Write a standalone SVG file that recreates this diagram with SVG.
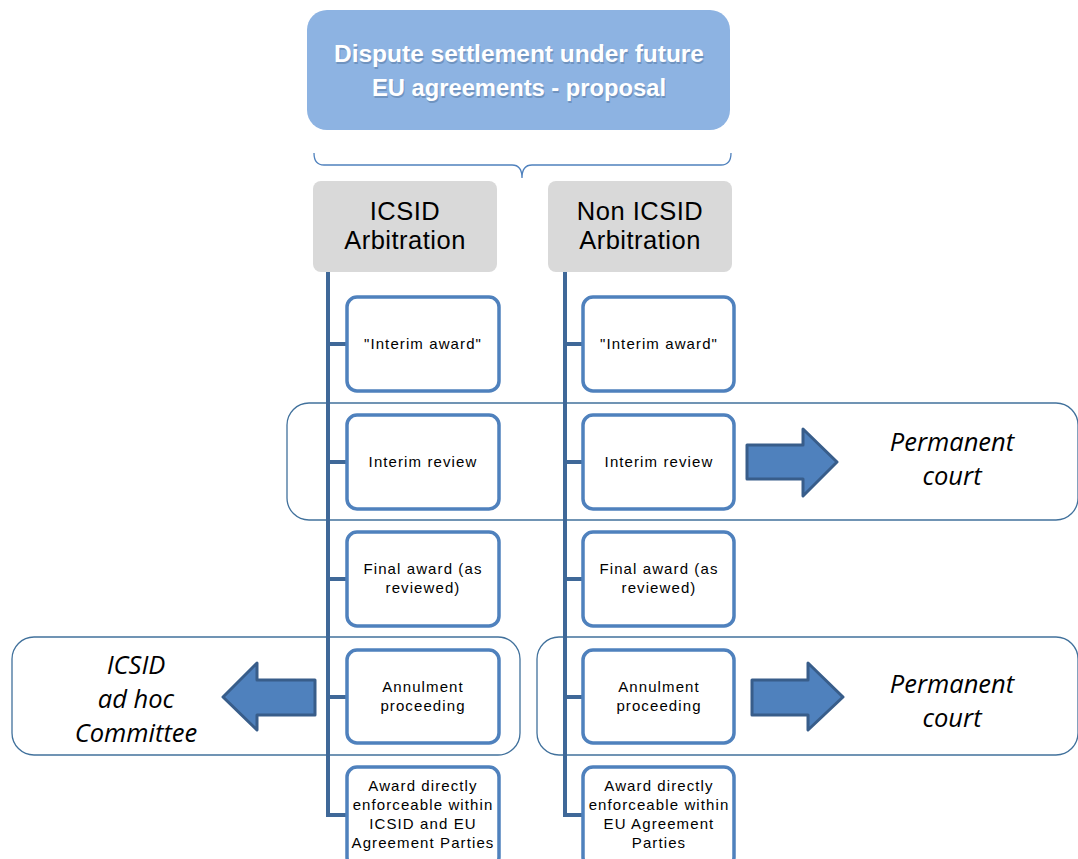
<svg xmlns="http://www.w3.org/2000/svg" width="1078" height="859" viewBox="0 0 1078 859">
<defs>
<style>
.title{font-family:"Liberation Sans",Arial,sans-serif;font-weight:bold;font-size:23px;fill:#ffffff;text-anchor:middle}
.tshadow{font-family:"Liberation Sans",Arial,sans-serif;font-weight:bold;font-size:23px;fill:#3a5a80;opacity:0.35;text-anchor:middle}
.cat{fill:#d9d9d9}
.cattxt{font-family:"Liberation Sans",Arial,sans-serif;font-size:25.5px;fill:#000;text-anchor:middle;letter-spacing:0.5px}
.box{fill:#ffffff;stroke:#4f81bd;stroke-width:3.5}
.btxt{font-family:"Liberation Sans",Arial,sans-serif;font-size:15px;fill:#000;text-anchor:middle;letter-spacing:1.1px}
.grp{fill:none;stroke:#41719c;stroke-width:1.3}
.arrow{fill:#4f81bd;stroke:#385d8a;stroke-width:3;stroke-linejoin:round}
.itxt{font-family:"Open Sans","Liberation Sans",sans-serif;font-style:italic;font-size:25.5px;fill:#000;text-anchor:middle}
.conn{fill:none;stroke:#3f6898;stroke-width:4}
</style>
</defs>
<rect width="1078" height="859" fill="#ffffff"/>

<g id="groups">
<rect class="grp" x="287" y="403" width="791" height="117" rx="22"/>
<rect class="grp" x="12" y="637" width="508" height="118" rx="22"/>
<rect class="grp" x="537" y="637" width="541" height="118" rx="22"/>
</g>

<g id="title">
<rect x="307" y="10" width="423" height="120" rx="20" fill="#8db3e2"/>
<text class="tshadow" x="520" y="63.5" textLength="370" lengthAdjust="spacingAndGlyphs">Dispute settlement under future</text>
<text class="tshadow" x="520" y="97.5" textLength="294" lengthAdjust="spacingAndGlyphs">EU agreements - proposal</text>
<text class="title" x="519" y="62" textLength="370" lengthAdjust="spacingAndGlyphs">Dispute settlement under future</text>
<text class="title" x="519" y="96" textLength="294" lengthAdjust="spacingAndGlyphs">EU agreements - proposal</text>
</g>

<g id="connectors">
<path d="M314,153 Q314,165 324,165 L512,165 Q522,165 522,178 Q522,165 532,165 L721,165 Q731,165 731,153" fill="none" stroke="#4f81bd" stroke-width="1.3"/>
<path class="conn" d="M328,272 V815 H347 M328,344 H347 M328,462 H347 M328,579 H347 M328,697 H347"/>
<path class="conn" d="M565,272 V815 H583 M565,344 H583 M565,462 H583 M565,579 H583 M565,697 H583"/>
</g>

<g id="icsid">
<rect class="cat" x="313" y="181" width="184" height="91" rx="8"/>
<text class="cattxt" x="405" y="220">ICSID</text>
<text class="cattxt" x="405" y="249">Arbitration</text>
</g>
<g id="nonicsid">
<rect class="cat" x="548" y="181" width="184" height="91" rx="8"/>
<text class="cattxt" x="640" y="220">Non ICSID</text>
<text class="cattxt" x="640" y="249">Arbitration</text>
</g>

<g id="l1"><rect class="box" x="347" y="297" width="152" height="94" rx="10"/><text class="btxt" x="423" y="349">"Interim award"</text></g>
<g id="l2"><rect class="box" x="347" y="415" width="152" height="94" rx="10"/><text class="btxt" x="423" y="467">Interim review</text></g>
<g id="l3"><rect class="box" x="347" y="532" width="152" height="94" rx="10"/><text class="btxt" x="423" y="574">Final award (as</text><text class="btxt" x="423" y="593">reviewed)</text></g>
<g id="l4"><rect class="box" x="347" y="650" width="152" height="93" rx="10"/><text class="btxt" x="423" y="692">Annulment</text><text class="btxt" x="423" y="711">proceeding</text></g>
<g id="l5"><rect class="box" x="347" y="767" width="152" height="100" rx="10"/><text class="btxt" x="423" y="791">Award directly</text><text class="btxt" x="423" y="810">enforceable within</text><text class="btxt" x="423" y="829">ICSID and EU</text><text class="btxt" x="423" y="848">Agreement Parties</text></g>

<g id="r1"><rect class="box" x="583" y="297" width="151" height="94" rx="10"/><text class="btxt" x="659" y="349">"Interim award"</text></g>
<g id="r2"><rect class="box" x="583" y="415" width="151" height="94" rx="10"/><text class="btxt" x="659" y="467">Interim review</text></g>
<g id="r3"><rect class="box" x="583" y="532" width="151" height="94" rx="10"/><text class="btxt" x="659" y="574">Final award (as</text><text class="btxt" x="659" y="593">reviewed)</text></g>
<g id="r4"><rect class="box" x="583" y="650" width="151" height="93" rx="10"/><text class="btxt" x="659" y="692">Annulment</text><text class="btxt" x="659" y="711">proceeding</text></g>
<g id="r5"><rect class="box" x="583" y="767" width="151" height="100" rx="10"/><text class="btxt" x="659" y="791">Award directly</text><text class="btxt" x="659" y="810">enforceable within</text><text class="btxt" x="659" y="829">EU Agreement</text><text class="btxt" x="659" y="848">Parties</text></g>

<g id="arrow1"><path class="arrow" d="M747,445 H803 V429 L837,462 L803,496 V479 H747 Z"/></g>
<g id="court1"><text class="itxt" x="952" y="451">Permanent</text><text class="itxt" x="952" y="485">court</text></g>

<g id="arrow2"><path class="arrow" d="M315,680 H257 V663 L223,697 L257,730 V715 H315 Z"/></g>
<g id="adhoc"><text class="itxt" x="136" y="674">ICSID</text><text class="itxt" x="136" y="708">ad hoc</text><text class="itxt" x="136" y="742">Committee</text></g>

<g id="arrow3"><path class="arrow" d="M752,680 H808 V663 L843,697 L808,730 V715 H752 Z"/></g>
<g id="court2"><text class="itxt" x="952" y="693">Permanent</text><text class="itxt" x="952" y="727">court</text></g>
</svg>
